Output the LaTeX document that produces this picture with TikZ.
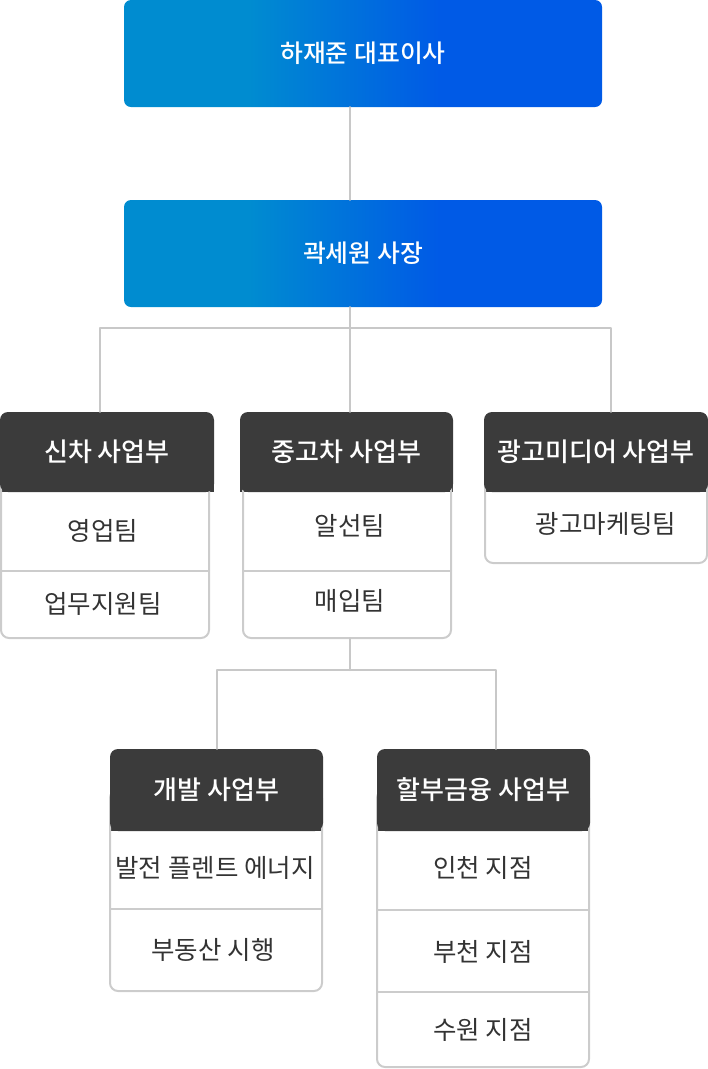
\documentclass[tikz,border=0pt]{standalone}
\usepackage{fontspec}
\setmainfont{Noto Sans CJK KR}[BoldFont={Noto Sans CJK KR Medium}]
\usetikzlibrary{positioning,backgrounds}
\definecolor{skyblue}{HTML}{008CD0}
\definecolor{royalblue}{HTML}{005AE6}
\definecolor{headgray}{HTML}{3B3B3B}
\definecolor{wiregray}{HTML}{C8C8C8}
\definecolor{framegray}{HTML}{CCCCCC}
\definecolor{textgray}{HTML}{333333}
\pgfdeclarehorizontalshading{bossgrad}{100bp}{color(0bp)=(skyblue); color(38bp)=(skyblue); color(58bp)=(royalblue); color(100bp)=(royalblue)}
\begin{document}
\begin{tikzpicture}[x=1pt, y=-1pt, line join=round, line cap=round, font=\fontsize{25.5}{30}\selectfont]
	\tikzset{topbox/.style={shade, shading=bossgrad, rounded corners=7pt, minimum width=478pt, minimum height=107pt, text=white, font=\fontsize{24.8}{29}\selectfont\bfseries},
		head/.style={fill=headgray, rounded corners=8pt, minimum height=80pt, text=white, font=\fontsize{26}{30}\selectfont\bfseries},
		team/.style={text=textgray},
		wire/.style={draw=wiregray, line width=2pt},
		frame/.style={draw=framegray, line width=2pt, rounded corners=8pt}}
	\useasboundingbox (0,0) rectangle (708,1069);
	% top management
	\node[topbox] (ceo) at (363,53.5) {하재준 대표이사};
	\node[topbox] (pres) at (363,253.5) {곽세원 사장};
	% divisions
	\node[head, minimum width=214pt] (newcar) at (107,452) {신차 사업부};
	\node[head, minimum width=213pt] (usedcar) at (346.5,452) {중고차 사업부};
	\node[head, minimum width=224pt] (adbiz) at (596,452) {광고미디어 사업부};
	\node[head, minimum width=213pt, minimum height=82pt] (devbiz) at (216.5,790) {개발 사업부};
	\node[head, minimum width=213pt, minimum height=82pt] (loanbiz) at (483.5,790) {할부금융 사업부};
	% teams
	\node[team] (sales) at (103,531) {영업팀};
	\node[team] (support) at (103,604) {업무지원팀};
	\node[team] (broker) at (350,526) {알선팀};
	\node[team] (purchase) at (350,601) {매입팀};
	\node[team] (admkt) at (606,524) {광고마케팅팀};
	\node[team] (plant) at (215,868) {발전 플렌트 에너지};
	\node[team] (realty) at (213,950) {부동산 시행};
	\node[team] (incheon) at (483,868) {인천 지점};
	\node[team] (bucheon) at (483,952) {부천 지점};
	\node[team] (suwon) at (483,1030) {수원 지점};
	\foreach \xa/\xb/\y in {1/209/571, 243/451/571, 110/322/909, 377/589/910, 377/589/992}
		\draw[framegray, line width=2pt] (\xa,\y)--(\xb,\y);
	\begin{scope}[on background layer]
		\foreach \n in {newcar,usedcar,adbiz,devbiz,loanbiz}
			\fill[headgray] (\n.west) rectangle (\n.south east);
		\draw[frame] (1,452) rectangle (209,638);
		\draw[frame] (243,452) rectangle (451,638);
		\draw[frame] (485,452) rectangle (707,563);
		\draw[frame] (110,790) rectangle (322,991);
		\draw[frame] (377,790) rectangle (589,1067);
	\end{scope}
	% connectors
	\coordinate (fork1) at (350,328);
	\coordinate (usedend) at (350,638);
	\coordinate (fork2) at (350,670);
	\draw[wire] ([xshift=-13pt]ceo.south)--([xshift=-13pt]pres.north);
	\draw[wire] ([xshift=-13pt]pres.south)--(fork1)--(fork1 |- usedcar.north);
	\draw[wire] ([xshift=-7pt]newcar.north) |- ([xshift=15pt]adbiz.north |- fork1)--([xshift=15pt]adbiz.north);
	\draw[wire] (usedend)--(fork2);
	\draw[wire] (devbiz.north) |- ([xshift=12.5pt]loanbiz.north |- fork2)--([xshift=12.5pt]loanbiz.north);
\end{tikzpicture}
\end{document}
